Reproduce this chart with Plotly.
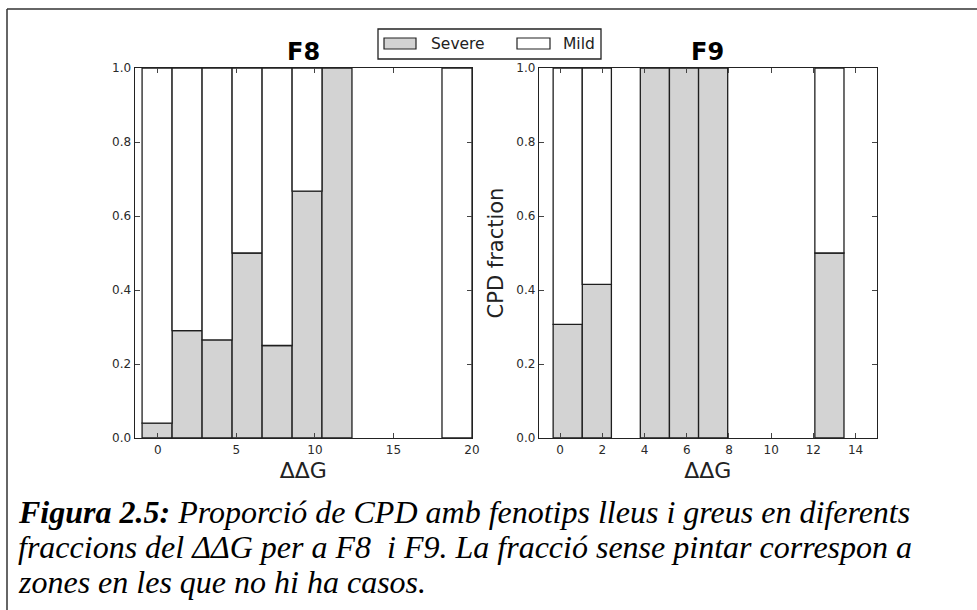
import plotly.graph_objects as go

# ---------------- data ----------------
f8_edges = [-1.0, 0.91, 2.82, 4.73, 6.64, 8.55, 10.45, 12.36, 14.27, 16.18, 18.09, 20.0]
f8_severe = [0.04, 0.29, 0.265, 0.50, 0.25, 0.667, 1.0, None, None, None, 0.0]

f9_edges = [-0.33, 1.05, 2.43, 3.80, 5.18, 6.56, 7.94, 9.32, 10.69, 12.07, 13.45]
f9_severe = [0.307, 0.415, None, 1.0, 1.0, 1.0, None, None, None, 0.5]

f8_ticks = [0, 5, 10, 15, 20]
f9_ticks = [0, 2, 4, 6, 8, 10, 12, 14]
y_ticks = [0.0, 0.2, 0.4, 0.6, 0.8, 1.0]

caption_lines = [
    "<b><i>Figura 2.5:</i></b><i> Proporció de CPD amb fenotips lleus i greus en diferents</i>",
    "<i>fraccions del ΔΔG per a F8  i F9. La fracció sense pintar correspon a</i>",
    "<i>zones en les que no hi ha casos.</i>",
]

W, H = 977, 610
def px(x):
    return x / W
def py(y):
    return 1 - y / H

SEVERE_COL = "#d3d3d3"
EDGE = "#1e1e1e"

fig = go.Figure()

def add_hist(edges, severe, xa, ya):
    xs, ws, sv, mx, mw, mv, mb = [], [], [], [], [], [], []
    for i, s in enumerate(severe):
        if s is None:
            continue
        c = (edges[i] + edges[i + 1]) / 2
        w = edges[i + 1] - edges[i]
        if s > 0:
            xs.append(c); ws.append(w); sv.append(s)
        if 1 - s > 1e-9:
            mx.append(c); mw.append(w); mv.append(1 - s); mb.append(s)
    fig.add_trace(go.Bar(x=xs, y=sv, width=ws, base=[0] * len(xs), name="Severe",
                         marker=dict(color=SEVERE_COL, line=dict(color=EDGE, width=1.3)),
                         xaxis=xa, yaxis=ya, showlegend=False))
    fig.add_trace(go.Bar(x=mx, y=mv, width=mw, base=mb, name="Mild",
                         marker=dict(color="white", line=dict(color=EDGE, width=1.3)),
                         xaxis=xa, yaxis=ya, showlegend=False))

add_hist(f8_edges, f8_severe, "x", "y")
add_hist(f9_edges, f9_severe, "x2", "y2")

tickfont = dict(family="DejaVu Sans", size=12, color="#2a2a2a")
axis_common = dict(showline=True, linecolor="#222", linewidth=1.4, mirror="ticks",
                   ticks="inside", ticklen=5, tickcolor="#444", tickwidth=1,
                   showgrid=False, zeroline=False, tickfont=tickfont, automargin=False)
xtitle_font = dict(family="DejaVu Sans", size=22, color="#222")

fig.update_layout(
    template="none",
    width=W, height=H,
    margin=dict(l=0, r=0, t=0, b=0, pad=0, autoexpand=False),
    paper_bgcolor="white", plot_bgcolor="white",
    barmode="overlay",
    showlegend=False,
    xaxis=dict(domain=[px(134.7), px(472)], range=[-1.47, 20.0], tickvals=f8_ticks,
               anchor="y", title=dict(text="ΔΔG", font=xtitle_font, standoff=7),
               **axis_common),
    yaxis=dict(domain=[py(438), py(68)], range=[0, 1], tickvals=y_ticks, tickformat=".1f",
               anchor="x", **axis_common),
    xaxis2=dict(domain=[px(539), px(876.7)], range=[-1.0, 15.0], tickvals=f9_ticks,
                anchor="y2", title=dict(text="ΔΔG", font=xtitle_font, standoff=7),
                **axis_common),
    yaxis2=dict(domain=[py(438), py(68)], range=[0, 1], tickvals=y_ticks, tickformat=".1f",
                anchor="x2",
                title=dict(text="CPD fraction", font=dict(family="DejaVu Sans", size=21, color="#222"), standoff=6),
                **axis_common),
)

# subplot titles
for label, xc in [("F8", 303.4), ("F9", 707.9)]:
    fig.add_annotation(text="<b>" + label + "</b>", x=px(xc), y=py(52), xref="paper", yref="paper",
                       xanchor="center", yanchor="middle", showarrow=False,
                       font=dict(family="DejaVu Sans", size=24, color="black"))

# legend (drawn like matplotlib's)
shapes = [
    dict(type="rect", xref="paper", yref="paper", x0=px(378), x1=px(601), y0=py(59), y1=py(29),
         line=dict(color="#222", width=1.3), fillcolor="white"),
    dict(type="rect", xref="paper", yref="paper", x0=px(384), x1=px(416), y0=py(49), y1=py(38),
         line=dict(color="#222", width=1.2), fillcolor=SEVERE_COL),
    dict(type="rect", xref="paper", yref="paper", x0=px(517), x1=px(550), y0=py(49), y1=py(38),
         line=dict(color="#222", width=1.2), fillcolor="white"),
    # outer frame of the figure (top and left edges)
    dict(type="line", xref="paper", yref="paper", x0=px(7), x1=px(980), y0=py(9), y1=py(9),
         line=dict(color="#333", width=1.5)),
    dict(type="line", xref="paper", yref="paper", x0=px(7), x1=px(7), y0=py(9), y1=py(615),
         line=dict(color="#333", width=1.5)),
]
fig.update_layout(shapes=shapes)
for label, xl in [("Severe", 429), ("Mild", 561)]:
    fig.add_annotation(text=label, x=px(xl), y=py(44), xref="paper", yref="paper",
                       xanchor="left", yanchor="middle", showarrow=False,
                       font=dict(family="DejaVu Sans", size=15.5, color="#222"))

# caption (three lines, left aligned)
for line, yc in zip(caption_lines, [512, 547, 582]):
    fig.add_annotation(text=line, x=px(16), y=py(yc), xref="paper", yref="paper",
                       xanchor="left", yanchor="middle", align="left", showarrow=False,
                       font=dict(family="Liberation Serif", size=32, color="black"))

fig.write_html("out.html")
